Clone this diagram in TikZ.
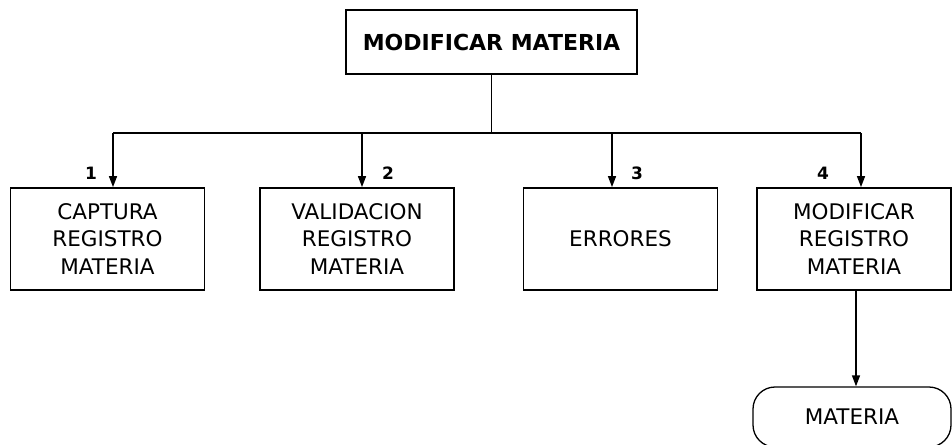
\documentclass[tikz,border=0pt]{standalone}
\usepackage{fontspec}
\setmainfont{DejaVu Sans}
\usetikzlibrary{arrows.meta,positioning,calc}

\begin{document}
\begin{tikzpicture}[
  x=1pt, y=-1pt,
  titlebox/.style={
    rectangle, draw=black, line width=1.8pt, fill=white,
    minimum width=291pt, minimum height=64pt,
    font=\fontsize{22}{26}\selectfont\bfseries, inner sep=0pt
  },
  box/.style={
    rectangle, draw=black, line width=1.8pt, fill=white,
    minimum width=194pt, minimum height=102pt,
    font=\fontsize{21.5}{27.5}\selectfont, align=center, inner sep=0pt
  },
  store/.style={
    rectangle, rounded corners=22pt, draw=black, line width=1.3pt, fill=white,
    minimum width=198pt, minimum height=60pt,
    font=\fontsize{21.5}{26}\selectfont, inner sep=0pt
  },
  num/.style={font=\fontsize{17}{19}\selectfont\bfseries, inner sep=0pt},
  line/.style={line width=1.4pt},
  arr/.style={line width=1.4pt, -{Triangle[length=11pt,width=8pt]}}
]
\useasboundingbox (0,0) rectangle (952,444);

% Main nodes
\node[titlebox] (modmat) at (491.5,42) {MODIFICAR MATERIA};
\node[box] (captura) at (107.5,239) {CAPTURA\\REGISTRO\\MATERIA};
\node[box] (valida) at (357,239) {VALIDACION\\REGISTRO\\MATERIA};
\node[box] (errores) at (620.5,239) {ERRORES};
\node[box] (modreg) at (854,239) {MODIFICAR\\REGISTRO\\MATERIA};
\node[store] (materia) at (852,417) {MATERIA\hspace{24pt}};

% Bus points
\coordinate (bus0) at (modmat.south |- 0,133);
\coordinate (bus1) at (113,133);
\coordinate (bus2) at (362,133);
\coordinate (bus3) at (612,133);
\coordinate (bus4) at (861,133);

% Tree lines
\draw[line] (modmat.south) -- (bus0);
\draw[line] (bus1) -- (bus4);
\draw[arr] (bus1) -- (bus1 |- captura.north);
\draw[arr] (bus2) -- (bus2 |- valida.north);
\draw[arr] (bus3) -- (bus3 |- errores.north);
\draw[arr] (bus4) -- (bus4 |- modreg.north);

% Step numbers
\node[num] (n1) at (91,173) {1};
\node[num] (n2) at (388,173) {2};
\node[num] (n3) at (637,173) {3};
\node[num] (n4) at (823,173) {4};

% Output to data store
\draw[arr] ($(modreg.south)+(2,0)$) -- ($(materia.north)+(4,0)$);

\end{tikzpicture}
\end{document}
